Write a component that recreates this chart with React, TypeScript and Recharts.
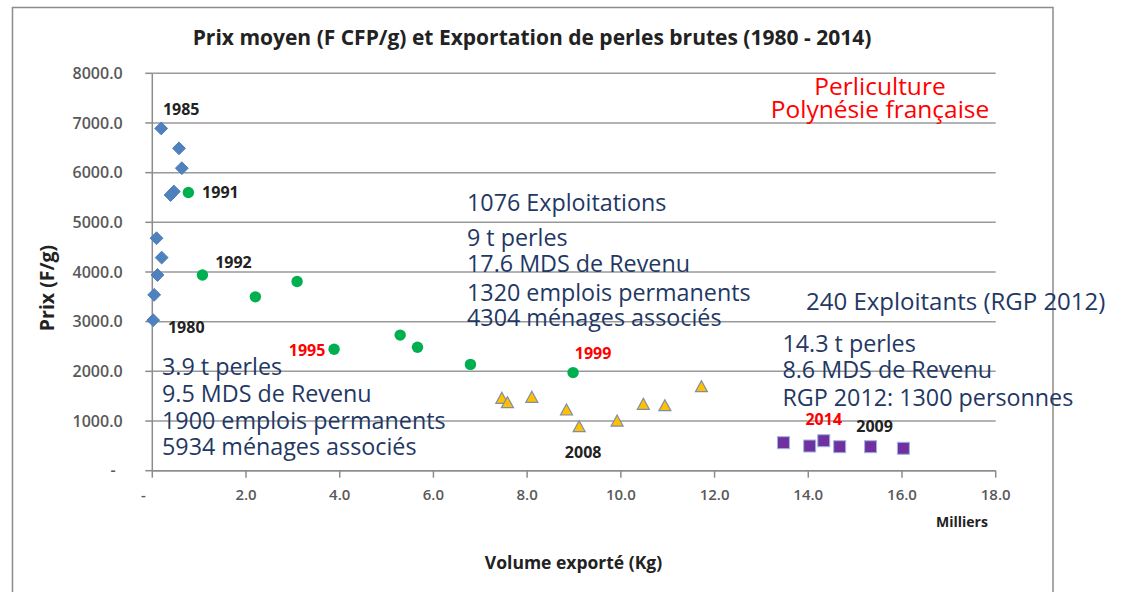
import { ScatterChart, Scatter, XAxis, YAxis, CartesianGrid, LabelList } from "recharts"

// volume exporté (milliers de kg) / prix moyen (F CFP par g)
const years1980s = [
  { x: 0.02, y: 3030, year: "1980" },
  { x: 0.04, y: 3540 },
  { x: 0.11, y: 3940 },
  { x: 0.2, y: 4290 },
  { x: 0.09, y: 4680 },
  { x: 0.19, y: 6890, year: "1985" },
  { x: 0.57, y: 6490 },
  { x: 0.63, y: 6090 },
  { x: 0.46, y: 5620 },
  { x: 0.39, y: 5550 },
]

const years1990s = [
  { x: 0.77, y: 5600, year: "1991" },
  { x: 1.07, y: 3940, year: "1992" },
  { x: 2.2, y: 3500 },
  { x: 3.09, y: 3810 },
  { x: 3.88, y: 2445, year: "1995" },
  { x: 5.29, y: 2730 },
  { x: 5.66, y: 2485 },
  { x: 6.79, y: 2140 },
  { x: 8.98, y: 1975, year: "1999" },
]

const years2000s = [
  { x: 7.46, y: 1457 },
  { x: 7.58, y: 1369 },
  { x: 8.1, y: 1478 },
  { x: 8.84, y: 1222 },
  { x: 9.11, y: 886, year: "2008" },
  { x: 9.92, y: 1000 },
  { x: 10.48, y: 1337 },
  { x: 10.94, y: 1309 },
  { x: 11.72, y: 1691 },
]

const years2010s = [
  { x: 13.47, y: 564 },
  { x: 14.03, y: 497 },
  { x: 14.33, y: 604, year: "2014" },
  { x: 14.67, y: 483 },
  { x: 15.33, y: 483, year: "2009" },
  { x: 16.03, y: 451 },
]

const xTicks = [0, 2, 4, 6, 8, 10, 12, 14, 16, 18]
const yTicks = [0, 1000, 2000, 3000, 4000, 5000, 6000, 7000, 8000]

const block1980 = ["3.9 t perles", "9.5 MDS de Revenu", "1900 emplois permanents", "5934 ménages associés"]
const block2000 = ["9 t perles", "17.6 MDS de Revenu", "1320 emplois permanents", "4304 ménages associés"]
const block2012 = ["14.3 t perles", "8.6 MDS de Revenu", "RGP 2012: 1300 personnes"]

const FONT = "'Open Sans', sans-serif"
const NAVY = "#1f3864"
const RED = "#ff0000"

const yearLabelStyle: Record<string, { dx: number; dy: number; color: string }> = {
  "1980": { dx: 33, dy: 7, color: "#222" },
  "1985": { dx: 20, dy: -19, color: "#222" },
  "1991": { dx: 32, dy: 0, color: "#222" },
  "1992": { dx: 31, dy: -13, color: "#222" },
  "1995": { dx: -27, dy: 1, color: RED },
  "1999": { dx: 20, dy: -19, color: RED },
  "2008": { dx: 4, dy: 26, color: "#222" },
  "2014": { dx: 0, dy: -21, color: RED },
  "2009": { dx: 4, dy: -20, color: "#222" },
}

const fmt = (v: number) => (v === 0 ? "-" : v.toFixed(1))

const XTick = (props: any) => {
  const { x, y, payload } = props
  return (
    <text x={x + (payload.value === 0 ? -9 : 0)} y={y} dy="0.71em" textAnchor="middle"
      fontFamily={FONT} fontSize={15} fontWeight={600} fill="#595959">
      {fmt(payload.value)}
    </text>
  )
}

const YTick = (props: any) => {
  const { x, y, payload } = props
  return (
    <text x={x + (payload.value === 0 ? -7 : 0)} y={y} dy="0.36em" textAnchor="end"
      fontFamily={FONT} fontSize={16} fontWeight={600} fill="#595959">
      {fmt(payload.value)}
    </text>
  )
}

const Diamond = ({ cx, cy }: any) => {
  const r = 6.4
  return <polygon points={`${cx},${cy - r} ${cx + r},${cy} ${cx},${cy + r} ${cx - r},${cy}`} fill="#4f81bd" stroke="#4a7ebb" />
}
const Dot = ({ cx, cy }: any) => <circle cx={cx} cy={cy} r={5.7} fill="#00b050" />
const Triangle = ({ cx, cy }: any) => (
  <polygon points={`${cx},${cy - 6} ${cx + 6},${cy + 5} ${cx - 6},${cy + 5}`} fill="#ffc000" stroke="#7c8eaa" strokeWidth={1.2} />
)
const Square = ({ cx, cy }: any) => (
  <rect x={cx - 6} y={cy - 6} width={12} height={12} fill="#7030a0" stroke="#9bb7e0" strokeWidth={1} />
)

const renderYear = (props: any) => {
  const { value } = props
  if (!value || !yearLabelStyle[value]) return null
  const vb = props.viewBox ?? props
  const cx = vb.x + (vb.width ?? 0) / 2
  const cy = vb.y + (vb.height ?? 0) / 2
  const s = yearLabelStyle[value]
  return (
    <text x={cx + s.dx} y={cy + s.dy} dy="0.36em" textAnchor="middle"
      fontFamily={FONT} fontSize={16} fontWeight={700} fill={s.color}>
      {value}
    </text>
  )
}

const TextBlock = ({ lines, x, ys }: { lines: string[]; x: number; ys: number[] }) => (
  <>
    {lines.map((t, i) => (
      <text key={t} x={x} y={ys[i]} dominantBaseline="central" fontFamily={FONT} fontSize={23.3} fill={NAVY}>
        {t}
      </text>
    ))}
  </>
)

export default function App() {
  return (
    <div style={{ position: "absolute", left: 0, top: 0, width: 1127, height: 592, background: "#fff", overflow: "hidden" }}>
      <ScatterChart width={1127} height={592} margin={{ top: 73.3, right: 131.3, bottom: 91.3, left: 92.3 }}>
        <CartesianGrid vertical={false} stroke="#9a9a9a" strokeWidth={1.5} />
        <XAxis type="number" dataKey="x" domain={[0, 18]} ticks={xTicks} height={30}
          tickSize={7} tickMargin={12} tick={<XTick />}
          axisLine={{ stroke: "#8c8c8c", strokeWidth: 1.5 }} tickLine={{ stroke: "#8c8c8c", strokeWidth: 1.5 }} />
        <YAxis type="number" dataKey="y" domain={[0, 8000]} ticks={yTicks} width={60}
          tickSize={7} tickMargin={22.6} tick={<YTick />}
          axisLine={{ stroke: "#8c8c8c", strokeWidth: 1.5 }} tickLine={{ stroke: "#8c8c8c", strokeWidth: 1.5 }} />
        <Scatter data={years1980s} shape={<Diamond />} isAnimationActive={false}>
          <LabelList dataKey="year" content={renderYear} />
        </Scatter>
        <Scatter data={years1990s} shape={<Dot />} isAnimationActive={false}>
          <LabelList dataKey="year" content={renderYear} />
        </Scatter>
        <Scatter data={years2000s} shape={<Triangle />} isAnimationActive={false}>
          <LabelList dataKey="year" content={renderYear} />
        </Scatter>
        <Scatter data={years2010s} shape={<Square />} isAnimationActive={false}>
          <LabelList dataKey="year" content={renderYear} />
        </Scatter>
      </ScatterChart>

      <svg width={1127} height={592} style={{ position: "absolute", left: 0, top: 0, pointerEvents: "none" }}>
        <rect x={12.5} y={7.5} width={1040.5} height={620} fill="none" stroke="#8c8c8c" strokeWidth={1.5} />
        <text x={532} y={37} textAnchor="middle" dominantBaseline="central" fontFamily={FONT} fontSize={21} fontWeight={700} fill="#222">
          Prix moyen (F CFP/g) et Exportation de perles brutes (1980 - 2014)
        </text>
        <text x={880} y={85} textAnchor="middle" dominantBaseline="central" fontFamily={FONT} fontSize={24.5} fill={RED}>Perliculture</text>
        <text x={880} y={108.3} textAnchor="middle" dominantBaseline="central" fontFamily={FONT} fontSize={24.5} fill={RED}>Polynésie française</text>

        <text x={467} y={201.7} dominantBaseline="central" fontFamily={FONT} fontSize={23.3} fill={NAVY}>1076 Exploitations</text>
        <TextBlock lines={block2000} x={467} ys={[237.3, 263.3, 291.7, 316.7]} />
        <TextBlock lines={block1980} x={162} ys={[366, 393.3, 420, 445.7]} />
        <text x={806} y={300.7} dominantBaseline="central" fontFamily={FONT} fontSize={24} fill={NAVY}>240 Exploitants (RGP 2012)</text>
        <TextBlock lines={block2012} x={782.4} ys={[343.3, 369.3, 396.7]} />

        <text transform="translate(46.4 288) rotate(-90)" textAnchor="middle" dominantBaseline="central" fontFamily={FONT} fontSize={19.5} fontWeight={700} fill="#222">
          Prix (F/g)
        </text>
        <text x={573.5} y={561.7} textAnchor="middle" dominantBaseline="central" fontFamily={FONT} fontSize={17.5} fontWeight={700} fill="#222">
          Volume exporté (Kg)
        </text>
        <text x={962} y={521.7} textAnchor="middle" dominantBaseline="central" fontFamily={FONT} fontSize={14} fontWeight={700} fill="#222">
          Milliers
        </text>
      </svg>
    </div>
  )
}
